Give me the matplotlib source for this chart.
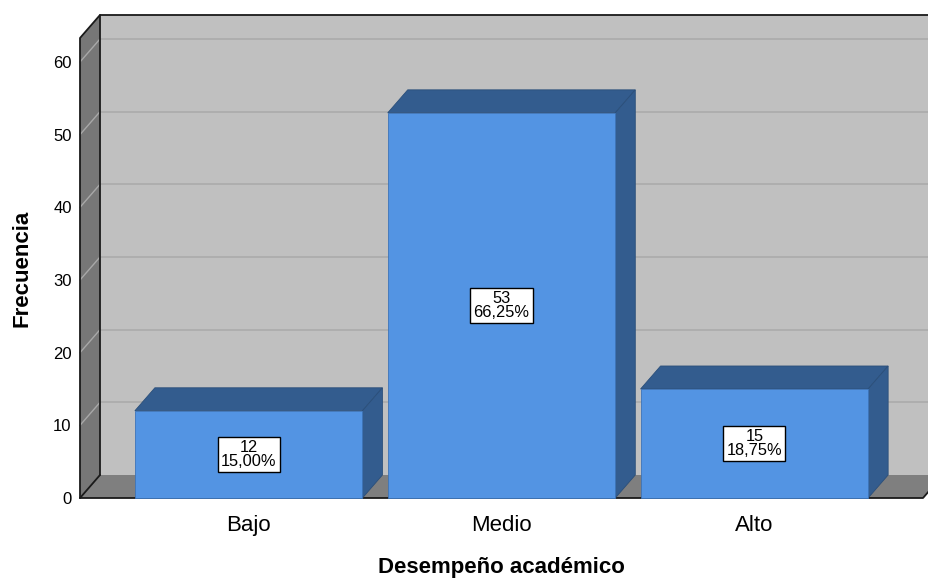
import matplotlib.pyplot as plt
from matplotlib.patches import Polygon

# ----------------------------
# DATA
# ----------------------------
categorias = ["Bajo", "Medio", "Alto"]
frecuencias = [12, 53, 15]
porcentajes = ["15,00%", "66,25%", "18,75%"]
y_ticks = [0, 10, 20, 30, 40, 50, 60]

# ----------------------------
# STYLE
# ----------------------------
plt.rcParams['font.family'] = ['Liberation Sans', 'DejaVu Sans']
c_front = '#5394E3'
c_dark = '#335C8E'
c_back = '#C0C0C0'
c_side = '#777777'
c_floor = '#7F7F7F'
c_grid = '#ABABAB'

W, H = 929, 582
fig = plt.figure(figsize=(W / 100, H / 100), dpi=100)

# front plane of the 3D box, in pixels
left_px, right_px, bottom_px, top_px = 80, 923, 498, 38
ax = fig.add_axes([left_px / W, 1 - bottom_px / H,
                   (right_px - left_px) / W, (bottom_px - top_px) / H])
x0, x1 = -0.667, 2.667
ytop = 63.3
ax.set_xlim(x0, x1)
ax.set_ylim(0, ytop)

# depth offset in data units
dx = 20 / ((right_px - left_px) / (x1 - x0))
dy = 23 / ((bottom_px - top_px) / ytop)


def poly(pts, fc, z, ec='none', lw=0):
    ax.add_patch(Polygon(pts, closed=True, fc=fc, ec=ec, lw=lw,
                         clip_on=False, zorder=z))


# back wall
poly([(x0 + dx, dy), (x1 + dx, dy), (x1 + dx, ytop + dy), (x0 + dx, ytop + dy)], c_back, 1)
for t in y_ticks[1:]:
    ax.plot([x0 + dx, x1 + dx], [t + dy, t + dy], color=c_grid, lw=1.2, clip_on=False, zorder=2)

# left side wall
poly([(x0, 0), (x0 + dx, dy), (x0 + dx, ytop + dy), (x0, ytop)], c_side, 3)
for t in y_ticks[1:]:
    ax.plot([x0, x0 + dx], [t, t + dy], color='#A8A8A8', lw=1.0, clip_on=False, zorder=3.5)

# floor
poly([(x0, 0), (x1, 0), (x1 + dx, dy), (x0 + dx, dy)], c_floor, 3)

# outline edges
k = dict(color='#1A1A1A', lw=1.3, clip_on=False, zorder=4, solid_capstyle='round')
ax.plot([x0, x0, x0 + dx, x1 + dx], [0, ytop, ytop + dy, ytop + dy], **k)
ax.plot([x0 + dx, x0 + dx], [dy, ytop + dy], **k)
ax.plot([x0, x0 + dx], [0, dy], **k)
ax.plot([x0, x1, x1 + dx], [0, 0, dy], **k)

# bars
w = 0.9
for i, (v, p) in enumerate(zip(frecuencias, porcentajes)):
    xl, xr = i - w / 2, i + w / 2
    poly([(xl, v), (xr, v), (xr + dx, v + dy), (xl + dx, v + dy)], c_dark, 5, ec='#2B4F7A', lw=0.6)
    poly([(xr, 0), (xr + dx, dy), (xr + dx, v + dy), (xr, v)], c_dark, 5, ec='#2B4F7A', lw=0.6)
    ax.bar(i, v, width=w, color=c_front, edgecolor='#3D74B8', linewidth=0.6, zorder=6, clip_on=False)
    ax.text(i, v / 2, f"{v}\n{p}", ha='center', va='center', fontsize=11.8,
            linespacing=0.9, zorder=8,
            bbox=dict(boxstyle='square,pad=0.2', fc='white', ec='black', lw=1.0))

# axes decorations
for s in ax.spines.values():
    s.set_visible(False)
ax.patch.set_visible(False)
ax.set_yticks(y_ticks)
ax.set_yticklabels([str(t) for t in y_ticks], fontsize=12)
ax.set_xticks(range(len(categorias)))
ax.set_xticklabels(categorias, fontsize=16)
ax.tick_params(axis='y', length=0, pad=6)
ax.tick_params(axis='x', length=0, pad=12)
ax.set_xlabel('Desempeño académico', fontsize=16, fontweight='bold', labelpad=15)
ax.set_ylabel('Frecuencia', fontsize=16, fontweight='bold', labelpad=15)

fig.savefig('out.png', dpi=100)
